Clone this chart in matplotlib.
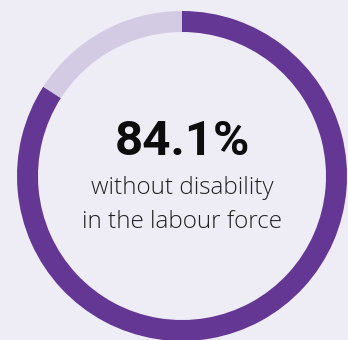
import matplotlib
matplotlib.use("Agg")
import matplotlib.pyplot as plt

values = [84.1, 15.9]
colors = ["#643795", "#d3cae4"]
headline = "84.1%"
caption = ["without disability", "in the labour force"]

bg = "#eeecf5"

fig = plt.figure(figsize=(3.48, 3.40), dpi=100)
fig.patch.set_facecolor(bg)
ax = fig.add_axes([0, 0, 1, 1])
ax.set_facecolor(bg)

# ring, drawn clockwise from the top
ax.pie(values, colors=colors, radius=165, center=(182, 164), startangle=90,
       counterclock=False, wedgeprops=dict(width=21, linewidth=0))

ax.set_xlim(0, 348)
ax.set_ylim(0, 340)
ax.set_aspect("equal")
ax.axis("off")

ax.text(182, 198, headline, ha="center", va="center", fontsize=35.5,
        fontweight="bold", family="Roboto", color="#0d0d0d")
ax.text(182, 152, caption[0], ha="center", va="center", fontsize=17.5,
        fontweight="light", family="Open Sans", color="#222222")
ax.text(182, 118, caption[1], ha="center", va="center", fontsize=17.5,
        fontweight="light", family="Open Sans", color="#222222")

fig.savefig("out.png", dpi=100, facecolor=bg)
